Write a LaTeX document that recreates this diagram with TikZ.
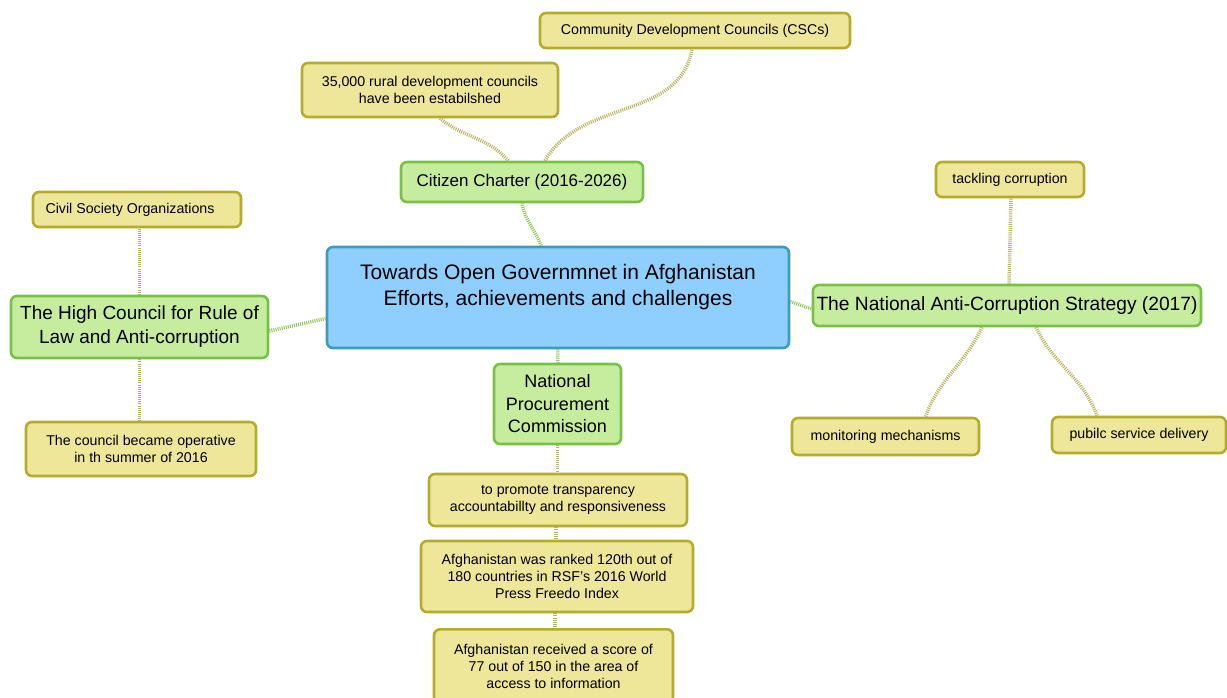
\documentclass[tikz,border=0pt]{standalone}
\usepackage{fontspec}
\setmainfont{Liberation Sans}
\definecolor{yfill}{HTML}{EEE79A}
\definecolor{ydraw}{HTML}{B3AC2C}
\definecolor{gfill}{HTML}{C6EC9E}
\definecolor{gdraw}{HTML}{7BC046}
\definecolor{bfill}{HTML}{8FCFFF}
\definecolor{bdraw}{HTML}{3E9CB6}
\definecolor{gline}{HTML}{8CC653}
\definecolor{yline}{HTML}{B9B260}
\begin{document}
\begin{tikzpicture}[x=1pt,y=-1pt,
  box/.style={rounded corners=6pt, line width=2.6pt, inner sep=2pt, align=center},
  ybox/.style={box, fill=yfill, draw=ydraw, font=\fontsize{14.2}{17}\selectfont},
  gbox/.style={box, fill=gfill, draw=gdraw},
  conn/.style={line width=3.5pt, dash pattern=on 1pt off 1.1pt},
  gconn/.style={conn, draw=gline},
  yconn/.style={conn, draw=yline}]
\useasboundingbox (0,0) rectangle (1227,697);
\clip (0,0) rectangle (1227,697);
% central
\node[box, fill=bfill, draw=bdraw, minimum width=462, minimum height=101,
  font=\fontsize{21}{25.5}\selectfont] (c) at (558,297.5)
  {Towards Open Governmnet in Afghanistan\\Efforts, achievements and challenges\\[0pt]~};
% green
\node[gbox, minimum width=242, minimum height=40, font=\fontsize{17}{20}\selectfont] (cc) at (522,182) {Citizen Charter (2016-2026)};
\node[gbox, minimum width=257, minimum height=62, font=\fontsize{19}{24}\selectfont] (hc) at (139.5,327) {The High Council for Rule of\\Law and Anti-corruption};
\node[gbox, minimum width=388, minimum height=41, inner sep=1pt, font=\fontsize{19.2}{23}\selectfont] (na) at (1007,305.5) {The National Anti-Corruption Strategy (2017)};
\node[gbox, minimum width=127, minimum height=80, font=\fontsize{18}{22.5}\selectfont] (np) at (557.5,404) {National\\Procurement\\Commission};
% yellow
\node[ybox, minimum width=310, minimum height=35] (cdc) at (695,30.5) {Community Development Councils (CSCs)};
\node[ybox, minimum width=256, minimum height=54] (r35) at (430,90) {35,000 rural development councils\\have been estabilshed};
\node[ybox, minimum width=208, minimum height=35] (cso) at (137,209.5) {Civil Society Organizations\hspace{14pt}};
\node[ybox, minimum width=230, minimum height=54] (op) at (141,449) {The council became operative\\in th summer of 2016};
\node[ybox, minimum width=148, minimum height=35] (tc) at (1010,179.5) {tackling corruption};
\node[ybox, minimum width=187, minimum height=37] (mm) at (885.5,436.5) {monitoring mechanisms};
\node[ybox, minimum width=174, minimum height=36] (ps) at (1139,435) {pubilc service delivery};
\node[ybox, minimum width=258, minimum height=52] (pr) at (558,500) {to promote transparency\\accountabillty and responsiveness};
\node[ybox, minimum width=272, minimum height=71] (rk) at (557,576.5) {Afghanistan was ranked 120th out of\\180 countries in RSF's 2016 World\\Press Freedo Index};
\node[ybox, minimum width=239, minimum height=74, anchor=north] (sc) at (553.5,628) {Afghanistan received a score of\\77 out of 150 in the area of\\access to information};
% connectors
\draw[gconn] ([xshift=-17pt]c.north) to[out=110,in=-80] (cc.south);
\draw[yconn] ([xshift=-14pt]cc.north) to[out=130,in=-40] ([xshift=10pt]r35.south);
\draw[yconn] ([xshift=23pt]cc.north) to[out=60,in=-100] ([xshift=-3pt]cdc.south);
\draw[gconn] ([yshift=-21pt]c.west) -- ([yshift=-4pt]hc.east);
\draw[yconn] (hc.north) -- (hc.north |- cso.south);
\draw[yconn] (hc.south) -- (hc.south |- op.north);
\draw[gconn] ([yshift=-4pt]c.east) -- ([yshift=-3.5pt]na.west);
\draw[yconn] ([xshift=2pt]na.north) -- ([xshift=1pt]tc.south);
\draw[yconn] ([xshift=-25pt]na.south) to[out=-115,in=70] ([xshift=40pt]mm.north);
\draw[yconn] ([xshift=29pt]na.south) to[out=-65,in=110] ([xshift=-42pt]ps.north);
\draw[gconn] (c.south) -- (np.north);
\draw[yconn] (np.south) -- (np.south |- pr.north);
\draw[yconn] ([xshift=-2pt]pr.south) -- ([xshift=-2pt]pr.south |- rk.north);
\draw[yconn] ([xshift=-2pt]rk.south) -- ([xshift=-2pt]rk.south |- sc.north);
\end{tikzpicture}
\end{document}
